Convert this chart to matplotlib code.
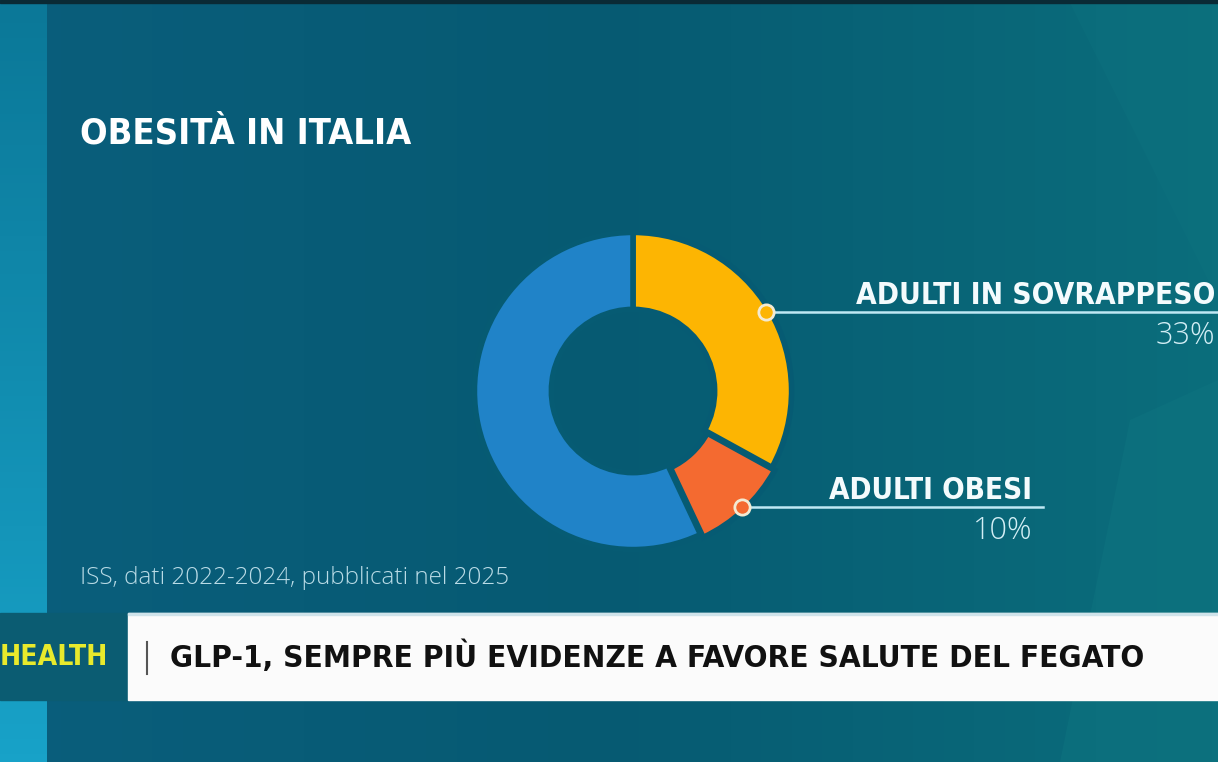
import matplotlib.pyplot as plt
from matplotlib.patches import Rectangle, Polygon
import numpy as np

# chart data
labels = ['ADULTI IN SOVRAPPESO', 'ADULTI OBESI', 'ALTRI']
values = [33, 10, 57]
pct_labels = ['33%', '10%']
colors = ['#fdb502', '#f46a30', '#2083c8']

title = 'OBESITÀ IN ITALIA'
source = 'ISS, dati 2022-2024, pubblicati nel 2025'
tag = 'HEALTH'
headline = 'GLP-1, SEMPRE PIÙ EVIDENZE A FAVORE SALUTE DEL FEGATO'

W, H = 1218, 762
BG = '#07607a'
COND = ['DejaVu Sans']
LIGHT = ['Open Sans', 'DejaVu Sans']

fig = plt.figure(figsize=(W / 100, H / 100), dpi=100)
renderer = fig.canvas.get_renderer()


def fit_width(txt, width):
    # shrink / grow the font so the text spans about `width` pixels
    ext = txt.get_window_extent(renderer=renderer)
    txt.set_fontsize(txt.get_fontsize() * width / ext.width)


# background layer in pixel coordinates
bg = fig.add_axes([0, 0, 1, 1])
bg.axis('off')

xs = np.linspace(0, 1, 200)
ys = np.linspace(0, 1, 120)
gx, gy = np.meshgrid(xs, ys)
c_left = np.array([0x0a, 0x5e, 0x7c]) / 255
c_mid = np.array([0x06, 0x5a, 0x72]) / 255
c_right = np.array([0x0b, 0x6e, 0x7c]) / 255
t = gx[..., None]
grad = np.where(t < 0.5, c_left + (c_mid - c_left) * (t / 0.5),
                c_mid + (c_right - c_mid) * ((t - 0.5) / 0.5))
bg.imshow(grad, extent=[0, W, H, 0], aspect='auto', zorder=0)

# left light strip
strip = np.linspace(0, 1, 100)[:, None, None]
top_c = np.array([0x0b, 0x78, 0x98]) / 255
bot_c = np.array([0x18, 0xa2, 0xc8]) / 255
bg.imshow(top_c + (bot_c - top_c) * strip, extent=[0, 47, H, 0], aspect='auto', zorder=1)
bg.set_xlim(0, W)
bg.set_ylim(H, 0)

# soft lighter shapes on the right
bg.add_patch(Polygon([[1060, 762], [1130, 420], [1218, 380], [1218, 762]],
                     closed=True, color='#0e7480', alpha=0.5, zorder=1, lw=0))
bg.add_patch(Polygon([[1070, 3], [1218, 3], [1218, 300]],
                     closed=True, color='#0e7480', alpha=0.35, zorder=1, lw=0))
bg.add_patch(Rectangle((0, 0), W, 3, color='#0a2a35', zorder=2))

# title and source
t1 = bg.text(80, 134, title, family=COND, fontweight='bold', fontstretch='condensed',
             fontsize=35, color='white', va='center', ha='left', zorder=3)
fit_width(t1, 331)
t2 = bg.text(80, 578, source, family=LIGHT, fontweight='light', fontsize=14,
             color='#b9dbe6', va='center', ha='left', zorder=3)
fit_width(t2, 433)

# donut
cx, cy, R = 633, 391, 157
half = 172
ax = fig.add_axes([(cx - half) / W, (H - cy - half) / H, 2 * half / W, 2 * half / H])

wedges, _ = ax.pie(values, colors=colors, startangle=90, counterclock=False,
                   radius=1.01, explode=[0, 0.025, 0],
                   wedgeprops=dict(width=0.49, edgecolor='#065b73', linewidth=4))
ax.set_xlim(-half / R, half / R)
ax.set_ylim(-half / R, half / R)
ax.set_aspect('equal')
ax.axis('off')

# callouts: dot on the outer edge at each slice's middle angle, line to the label
label_right = [1218, 1043]
label_w = [360, 204]
for i in range(2):
    w = wedges[i]
    mid = np.radians((w.theta1 + w.theta2) / 2)
    off = 0.025 if i == 1 else 0
    px = (0.985 + off) * np.cos(mid)
    py = (0.985 + off) * np.sin(mid)
    x_end = (label_right[i] - cx) / R
    ax.plot([px, x_end], [py, py], color='#bfe8f4', lw=1.8, clip_on=False, zorder=2)
    ax.plot(px, py, 'o', ms=11, mfc=colors[i], mec='#f3ead2', mew=2, clip_on=False, zorder=3)

    # text positions in pixels
    ly = cy - py * R
    right = label_right[i] - 3 if i == 0 else label_right[i] - 11
    lt = bg.text(right, ly - 8, labels[i], family=COND, fontweight='bold',
                 fontstretch='condensed', fontsize=28, color='#f4fbfd',
                 ha='right', va='baseline', zorder=3)
    fit_width(lt, label_w[i])
    bg.text(right, ly + 24, pct_labels[i], family=LIGHT, fontweight='light',
            fontsize=22, color='#d2eef5', ha='right', va='center', zorder=3)

# bottom banner
bg.add_patch(Rectangle((0, 613), 128, 87, color='#0b5c72', zorder=4))
bg.add_patch(Rectangle((128, 613), W - 128, 87, color='#fbfbfb', zorder=4))
bg.add_patch(Rectangle((128, 613), W - 128, 2, color='#cfe3ea', zorder=5))
bg.plot([147, 147], [642, 674], color='#555555', lw=1.5, zorder=5)
t3 = bg.text(108, 657, tag, family=COND, fontweight='bold', fontstretch='condensed',
             fontsize=29, color='#e8ea2c', ha='right', va='center', zorder=5)
fit_width(t3, 108)
t4 = bg.text(170, 657, headline, family=COND, fontweight='bold', fontstretch='condensed',
             fontsize=30, color='#111111', ha='left', va='center', zorder=5)
fit_width(t4, 968)

fig.savefig('out.png', dpi=100, facecolor=BG)
